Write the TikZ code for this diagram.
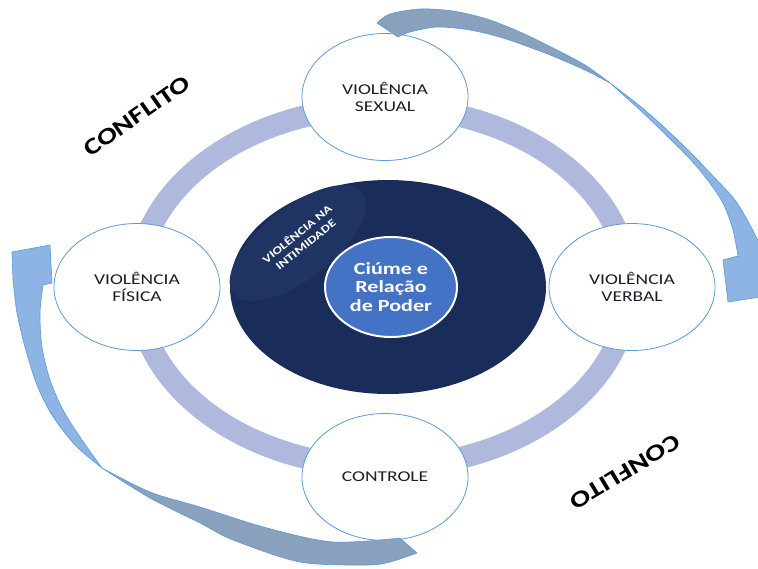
\documentclass[tikz,border=0pt]{standalone}
\usepackage{fontspec}
\setmainfont{Carlito}
\newfontfamily\lbl[FakeStretch=1.3]{Carlito}
\usetikzlibrary{shapes.geometric}
\definecolor{ringc}{HTML}{AEB9DD}
\definecolor{edgec}{HTML}{5B9BD5}
\definecolor{navy}{HTML}{1A2C59}
\definecolor{navyl}{HTML}{1F3462}
\definecolor{corec}{HTML}{4472C4}
\definecolor{arrowl}{HTML}{8DB4E2}
\definecolor{arrowg}{HTML}{8AA1BE}
\definecolor{txt}{HTML}{1E1E2A}
\tikzset{
  bubble/.style={ellipse, draw=edgec, fill=white, line width=0.8pt, inner sep=0pt,
    minimum width=166pt, minimum height=127pt, align=center, text=txt,
    font=\lbl\fontsize{15}{17}\selectfont},
  corenode/.style={ellipse, draw=white, fill=corec, line width=2pt, inner sep=0pt,
    minimum width=132pt, minimum height=100pt, align=center, text=white,
    font=\lbl\bfseries\fontsize{17}{18.5}\selectfont},
  conflict/.style={text=black, font=\lbl\bfseries\fontsize{23}{25}\selectfont},
  arrowpart/.style={draw=edgec, line width=0.6pt, line join=round}
}
\begin{document}
\begin{tikzpicture}[x=1pt,y=-1pt]
\useasboundingbox (0,0) rectangle (758,568);
\fill[white] (0,0) rectangle (758,568);
% ring
\draw[ringc, line width=22pt] (383,287) ellipse [x radius=246pt, y radius=180pt];
% central dark ellipse
\fill[navy] (388,287) ellipse [x radius=158pt, y radius=107pt];
\fill[navyl, rotate around={38:(298,243)}] (298,243) ellipse [x radius=82pt, y radius=36pt];
% bubbles
\node[bubble] (sexual) at (385,97) {VIOLÊNCIA\\SEXUAL};
\node[bubble] (fisica) at (137,287) {VIOLÊNCIA\\FÍSICA};
\node[bubble] (verbal) at (632,287) {VIOLÊNCIA\\VERBAL};
\node[bubble] (controle) at (385,477) {CONTROLE};
% core
\node[corenode] (core) at (391,287) {Ciúme e\\Relação\\de Poder};
\node[rotate=39, text=white, align=center, inner sep=0pt,
  font=\lbl\bfseries\fontsize{11}{13.5}\selectfont] (intim) at (301,239) {VIOLÊNCIA NA\\INTIMIDADE};
% conflict labels
\node[conflict, rotate=35] (conf1) at (137,116) {CONFLITO};
\node[conflict, rotate=211] (conf2) at (625,472) {CONFLITO};
% top-right curved arrow
\filldraw[arrowpart, fill=arrowg] plot[smooth] coordinates {(377,23) (390,14) (420,9) (453,11) (487,19) (520,32) (553,48) (585,65) (610,83)}
  -- plot[smooth] coordinates {(610,83) (587,71) (555,57) (537,50) (503,38) (470,30) (437,27) (410,32) (398,37)} -- cycle;
\filldraw[arrowpart, fill=arrowl] plot[smooth] coordinates {(610,83) (640,106) (665,128) (690,152) (712,175) (735,200) (750,225) (760,245)}
  -- (760,297) -- (728,302) -- (723,260)
  -- plot[smooth] coordinates {(738,256) (733,230) (723,203) (706,178) (688,157) (662,131) (640,110) (610,83)} -- cycle;
% bottom-left curved arrow
\filldraw[arrowpart, fill=arrowl] (52,283) -- (50,245) -- (12,252)
  -- plot[smooth] coordinates {(13,280) (17,313) (25,347) (37,385) (52,415) (75,445) (102,468)}
  -- plot[smooth] coordinates {(102,468) (82,440) (63,410) (50,380) (42,347) (40,313) (43,285)} -- cycle;
\filldraw[arrowpart, fill=arrowg] plot[smooth] coordinates {(102,468) (150,492) (200,507) (267,528) (333,542) (400,538)}
  -- (417,553)
  -- plot[smooth] coordinates {(417,553) (390,562) (367,565) (300,562) (233,540) (200,523) (150,498) (102,468)} -- cycle;
\end{tikzpicture}
\end{document}
